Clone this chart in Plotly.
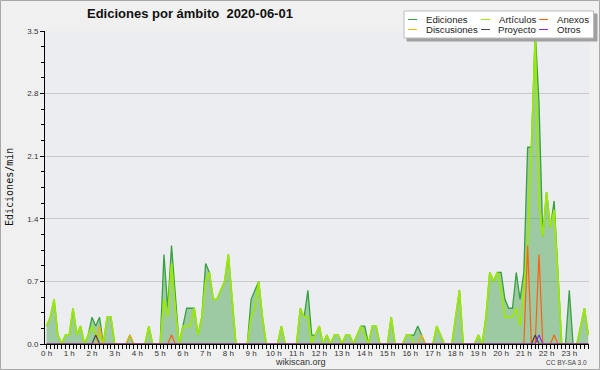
import plotly.graph_objects as go

# ---- data: 144 ten-minute slots of 2020-06-01, values in edits/min ----
slots = list(range(144))
hour_ticks = [h * 6 for h in range(24)]
hour_labels = [f"{h} h" for h in range(24)]
y_ticks = [0.0, 0.7, 1.4, 2.1, 2.8, 3.5]

ediciones = [
    0.2, 0.3, 0.5, 0.1, 0.0, 0.1, 0.1, 0.4, 0.1, 0.2, 0.0, 0.1,
    0.3, 0.2, 0.3, 0.0, 0.3, 0.3, 0.0, 0.0, 0.0, 0.0, 0.1, 0.0,
    0.0, 0.0, 0.0, 0.2, 0.0, 0.0, 0.0, 1.0, 0.4, 1.1, 0.5, 0.0,
    0.2, 0.4, 0.4, 0.4, 0.1, 0.3, 0.9, 0.8, 0.5, 0.5, 0.6, 0.7,
    1.0, 0.5, 0.0, 0.0, 0.0, 0.0, 0.5, 0.6, 0.7, 0.3, 0.0, 0.0,
    0.0, 0.0, 0.2, 0.0, 0.0, 0.0, 0.0, 0.4, 0.3, 0.6, 0.1, 0.1,
    0.2, 0.0, 0.1, 0.0, 0.1, 0.1, 0.0, 0.1, 0.1, 0.0, 0.1, 0.2,
    0.2, 0.0, 0.2, 0.2, 0.0, 0.0, 0.0, 0.3, 0.0, 0.0, 0.0, 0.1,
    0.1, 0.1, 0.2, 0.1, 0.0, 0.0, 0.0, 0.2, 0.1, 0.0, 0.0, 0.0,
    0.3, 0.6, 0.0, 0.0, 0.0, 0.0, 0.1, 0.0, 0.3, 0.8, 0.7, 0.8,
    0.8, 0.5, 0.4, 0.4, 0.8, 0.5, 0.8, 2.2, 2.2, 3.5, 2.7, 1.2,
    1.7, 1.3, 1.6, 0.8, 0.0, 0.0, 0.6, 0.0, 0.0, 0.2, 0.4, 0.1,
]

articulos = [
    0.2, 0.3, 0.5, 0.1, 0.0, 0.1, 0.1, 0.4, 0.1, 0.2, 0.0, 0.1,
    0.2, 0.1, 0.1, 0.0, 0.3, 0.3, 0.0, 0.0, 0.0, 0.0, 0.0, 0.0,
    0.0, 0.0, 0.0, 0.2, 0.0, 0.0, 0.0, 0.5, 0.3, 0.9, 0.4, 0.0,
    0.2, 0.2, 0.2, 0.4, 0.1, 0.3, 0.7, 0.8, 0.5, 0.5, 0.6, 0.7,
    1.0, 0.5, 0.0, 0.0, 0.0, 0.0, 0.3, 0.4, 0.7, 0.3, 0.0, 0.0,
    0.0, 0.0, 0.2, 0.0, 0.0, 0.0, 0.0, 0.4, 0.3, 0.3, 0.0, 0.1,
    0.2, 0.0, 0.1, 0.0, 0.1, 0.1, 0.0, 0.1, 0.1, 0.0, 0.1, 0.2,
    0.1, 0.0, 0.2, 0.2, 0.0, 0.0, 0.0, 0.3, 0.0, 0.0, 0.0, 0.1,
    0.1, 0.0, 0.0, 0.0, 0.0, 0.0, 0.0, 0.2, 0.1, 0.0, 0.0, 0.0,
    0.3, 0.6, 0.0, 0.0, 0.0, 0.0, 0.1, 0.0, 0.3, 0.8, 0.7, 0.8,
    0.6, 0.3, 0.3, 0.3, 0.4, 0.2, 0.6, 1.1, 2.2, 3.4, 1.6, 1.2,
    1.7, 1.3, 1.5, 0.8, 0.0, 0.0, 0.0, 0.0, 0.0, 0.2, 0.4, 0.1,
]

# sparse series: slot -> value (all other slots are 0)
discusiones_pts = {14: 0.2, 22: 0.1, 99: 0.1}
anexos_pts = {33: 0.1, 127: 1.1, 130: 1.0, 134: 0.1}
proyecto_pts = {13: 0.1, 129: 0.1}
otros_pts = {130: 0.1}


def expand(pts):
    return [pts.get(s, 0.0) for s in slots]


discusiones = expand(discusiones_pts)
anexos = expand(anexos_pts)
proyecto = expand(proyecto_pts)
otros = expand(otros_pts)

# ---- geometry helpers (pixels -> paper) ----
L, R, T, B = 45, 589, 31, 344
W, H = R - L, B - T


def px(x):
    return (x - L) / W


def py(y):
    return (B - y) / H


def box_path(x0, y0, x1, y1):
    a, b, c, d = px(x0), py(y0), px(x1), py(y1)
    return f"M{a},{b} L{c},{b} L{c},{d} L{a},{d} Z"


C_ED = "#36A13E"
C_FILL = "rgba(62,160,66,0.45)"
C_ART = "#9CE80C"
C_DIS = "#EDB400"
C_ANX = "#FF5F10"
C_PRO = "#444444"
C_OTR = "#8A2BE2"

fig = go.Figure()
fig.add_trace(go.Scatter(x=slots, y=ediciones, mode="lines", fill="tozeroy",
                         fillcolor=C_FILL, line=dict(color=C_ED, width=1.3),
                         name="Ediciones"))
fig.add_trace(go.Scatter(x=slots, y=articulos, mode="lines",
                         line=dict(color=C_ART, width=1.8), name="Artículos"))
fig.add_trace(go.Scatter(x=slots, y=discusiones, mode="lines",
                         line=dict(color=C_DIS, width=1.2), name="Discusiones"))
fig.add_trace(go.Scatter(x=slots, y=anexos, mode="lines",
                         line=dict(color=C_ANX, width=1.2), name="Anexos"))
fig.add_trace(go.Scatter(x=slots, y=proyecto, mode="lines",
                         line=dict(color=C_PRO, width=1.2), name="Proyecto"))
fig.add_trace(go.Scatter(x=slots, y=otros, mode="lines",
                         line=dict(color=C_OTR, width=1.2), name="Otros"))

tick_font = dict(family="Liberation Sans", size=8, color="#333333")

fig.update_layout(
    width=600, height=370,
    margin=dict(l=L, r=600 - R, t=T, b=370 - B, pad=0),
    paper_bgcolor="#F0F0F0", plot_bgcolor="#ECEDF0",
    showlegend=False,
    xaxis=dict(range=[-0.4, 143.2], tickvals=hour_ticks, ticktext=hour_labels,
               ticks="outside", ticklen=4, tickcolor="black", tickwidth=1,
               ticklabelstandoff=-3,
               showline=True, linecolor="black", linewidth=1,
               showgrid=False, zeroline=False, tickfont=tick_font,
               minor=dict(dtick=1, tick0=0, ticks="outside", ticklen=4,
                          tickcolor="black", tickwidth=1, showgrid=False)),
    yaxis=dict(range=[0, 3.5], tickvals=y_ticks, tickformat=".1f",
               ticks="outside", ticklen=4, tickcolor="black",
               showline=True, linecolor="black", linewidth=1,
               showgrid=True, gridcolor="#C9C9C9", gridwidth=1,
               zeroline=False, tickfont=tick_font,
               minor=dict(dtick=0.175, tick0=0, ticks="outside", ticklen=3,
                          tickcolor="black", showgrid=False)),
)

shapes = []
# outer frame
shapes.append(dict(type="path", xref="paper", yref="paper",
                   path=box_path(0.5, 0.5, 599.5, 369.5),
                   line=dict(color="#A8A8A8", width=1), layer="above"))
# legend shadow + box
shapes.append(dict(type="path", xref="paper", yref="paper",
                   path=box_path(407, 14, 597, 41),
                   line=dict(color="#A0A0A0", width=1), fillcolor="#A0A0A0",
                   layer="above"))
shapes.append(dict(type="path", xref="paper", yref="paper",
                   path=box_path(404, 11, 593.5, 38),
                   line=dict(color="#BDBDBD", width=1), fillcolor="#FFFFFF",
                   layer="above"))

legend_items = [
    ("Ediciones", C_ED, 408, 424, 19.5),
    ("Artículos", C_ART, 481, 497, 19.5),
    ("Anexos", C_ANX, 539, 555, 19.5),
    ("Discusiones", C_DIS, 408, 424, 29.5),
    ("Proyecto", C_PRO, 481, 496, 29.5),
    ("Otros", C_OTR, 539, 555, 29.5),
]
annotations = []
for name, col, lx, tx, ly in legend_items:
    shapes.append(dict(type="line", xref="paper", yref="paper",
                       x0=px(lx), x1=px(lx + 9), y0=py(ly), y1=py(ly),
                       line=dict(color=col, width=1), layer="above"))
    annotations.append(dict(text=name, xref="paper", yref="paper",
                            x=px(tx), y=py(ly), xanchor="left", yanchor="middle",
                            showarrow=False,
                            font=dict(family="Liberation Sans", size=9.6, color="#222222")))

annotations += [
    dict(text="Ediciones por ámbito\u00a0\u00a02020-06-01", xref="paper", yref="paper",
         x=px(85), y=py(13.5), xanchor="left", yanchor="middle", showarrow=False,
         font=dict(family="Liberation Sans", size=13, color="#111111", weight="bold")),
    dict(text="Ediciones/min", xref="paper", yref="paper", x=px(9.5), y=py(187.5),
         xanchor="center", yanchor="middle", textangle=-90, showarrow=False,
         font=dict(family="DejaVu Sans Mono", size=10, color="#111111")),
    dict(text="wikiscan.org", xref="paper", yref="paper", x=px(300.5), y=py(362),
         xanchor="center", yanchor="middle", showarrow=False,
         font=dict(family="Liberation Sans", size=9, color="#333333")),
    dict(text="CC BY-SA 3.0", xref="paper", yref="paper", x=px(589), y=py(362.5),
         xanchor="right", yanchor="middle", showarrow=False,
         font=dict(family="Liberation Sans", size=6.5, color="#444444")),
]

fig.update_layout(shapes=shapes, annotations=annotations)
fig.write_html("out.html", config={"displayModeBar": False},
               post_script="document.body.style.margin='0';document.body.style.overflow='hidden';")
